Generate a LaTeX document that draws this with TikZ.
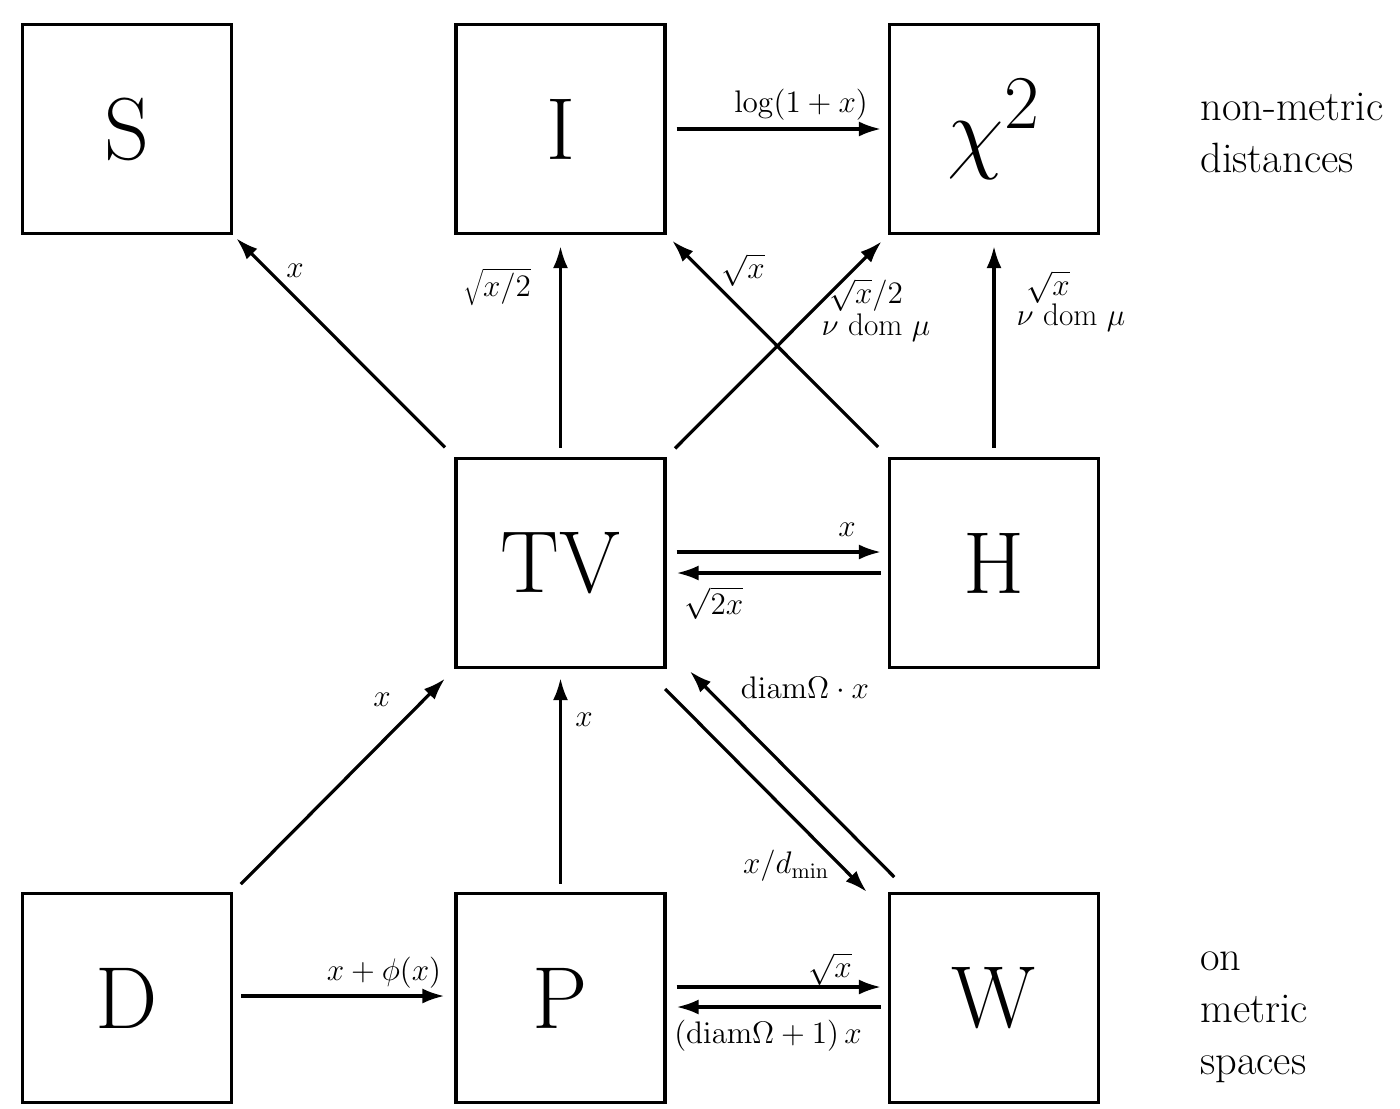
\RequirePackage{fix-cm}
\documentclass[tikz,border=0pt]{standalone}
\usetikzlibrary{arrows.meta}
\begin{document}
\begin{tikzpicture}[x=0.5pt,y=-0.5pt,
  box/.style={draw,line width=1.6pt,minimum size=104.5pt,inner sep=0pt,font=\fontsize{44}{50}\selectfont},
  arr/.style={line width=1.6pt,-{Latex[length=11pt,width=7.5pt]}},
  lbl/.style={inner sep=0pt,font=\fontsize{15.6}{18}\selectfont},
  side/.style={inner sep=0pt,align=left,anchor=north west,font=\fontsize{21.2}{26}\selectfont}]
\useasboundingbox (0,0) rectangle (1400,1108);
\node[box] (S) at (127,129) {S};
\node[box] (I) at (560.5,129) {I};
\node[box,font=\fontsize{46}{50}\selectfont] (C) at (994,129) {$\chi^{\mbox{\fontsize{38}{40}\selectfont 2}}$};
\node[box] (TV) at (560.5,563) {TV};
\node[box] (H) at (994,563) {H};
\node[box] (D) at (127,998) {D};
\node[box] (P) at (560.5,998) {P};
\node[box] (W) at (994,998) {W};
% arrows
\draw[arr,shorten <=6.7pt,shorten >=2.3pt] (TV.north west) -- (S.south east);
\draw[arr,shorten <=4.5pt,shorten >=5.5pt] (TV.north) -- (I.south);
\draw[arr,shorten <=6pt,shorten >=4.5pt] (TV.north east) -- (C.south west);
\draw[arr,shorten <=7pt,shorten >=4pt] (H.north west) -- (I.south east);
\draw[arr,shorten <=4.5pt,shorten >=5.5pt] (H.north) -- (C.south);
\draw[arr,shorten <=5pt,shorten >=3.5pt] (I.east) -- (C.west);
\draw[arr,shorten <=5pt,shorten >=3.5pt] ([yshift=5.5pt]TV.east) -- ([yshift=5.5pt]H.west);
\draw[arr,shorten <=3.5pt,shorten >=5pt] ([yshift=-5pt]H.west) -- ([yshift=-5pt]TV.east);
\draw[arr,shorten <=5.5pt,shorten >=6.7pt] (D.north east) -- (TV.south west);
\draw[arr,shorten <=4pt,shorten >=4.5pt] (P.north) -- (TV.south);
\draw[arr,shorten <=4pt,shorten >=5pt] ([yshift=1pt]D.east) -- ([yshift=1pt]P.west);
\draw[arr,shorten <=5pt,shorten >=3.5pt] ([yshift=5.5pt]P.east) -- ([yshift=5.5pt]W.west);
\draw[arr,shorten <=3.5pt,shorten >=5pt] ([yshift=-4.5pt]W.west) -- ([yshift=-4.5pt]P.east);
\draw[arr,shorten <=6.5pt,shorten >=7.5pt] ([shift={(-5.3pt,-5.3pt)}]TV.south east) -- ([shift={(-5.3pt,-5.3pt)}]W.north west);
\draw[arr,shorten <=3pt,shorten >=9pt] ([shift={(5.3pt,5.3pt)}]W.north west) -- ([shift={(5.3pt,5.3pt)}]TV.south east);
% labels
\node[lbl] (l1) at (295,271) {$x$};
\node[lbl] (l2) at (497,287) {$\sqrt{x/2}$};
\node[lbl] (l3) at (743,270) {$\sqrt{x}$};
\node[lbl] (l4a) at (866,295) {$\sqrt{x}/2$};
\node[lbl] (l4b) at (876,328) {$\nu$ dom $\mu$};
\node[lbl] (l5a) at (1048,287) {$\sqrt{x}$};
\node[lbl] (l5b) at (1071,318) {$\nu$ dom $\mu$};
\node[lbl] (l6) at (801,105) {$\log(1+x)$};
\node[lbl] (l7) at (847,530) {$x$};
\node[lbl] (l8) at (714,603) {$\sqrt{2x}$};
\node[lbl] (l9) at (382,700) {$x$};
\node[lbl] (l10) at (584,720) {$x$};
\node[lbl] (l11) at (805,688) {$\mathrm{diam}\Omega\cdot x$};
\node[lbl] (l12) at (786,866) {$x/d_{\min}$};
\node[lbl] (l13) at (384,973) {$x+\phi(x)$};
\node[lbl] (l14) at (830,969) {$\sqrt{x}$};
\node[lbl] (l15) at (768,1036) {$(\mathrm{diam}\Omega+1)\,x$};
\node[side] (t1) at (1200,93) {non-metric\\distances};
\node[side] (t2) at (1200,951) {on\\metric\\spaces};
\end{tikzpicture}
\end{document}
